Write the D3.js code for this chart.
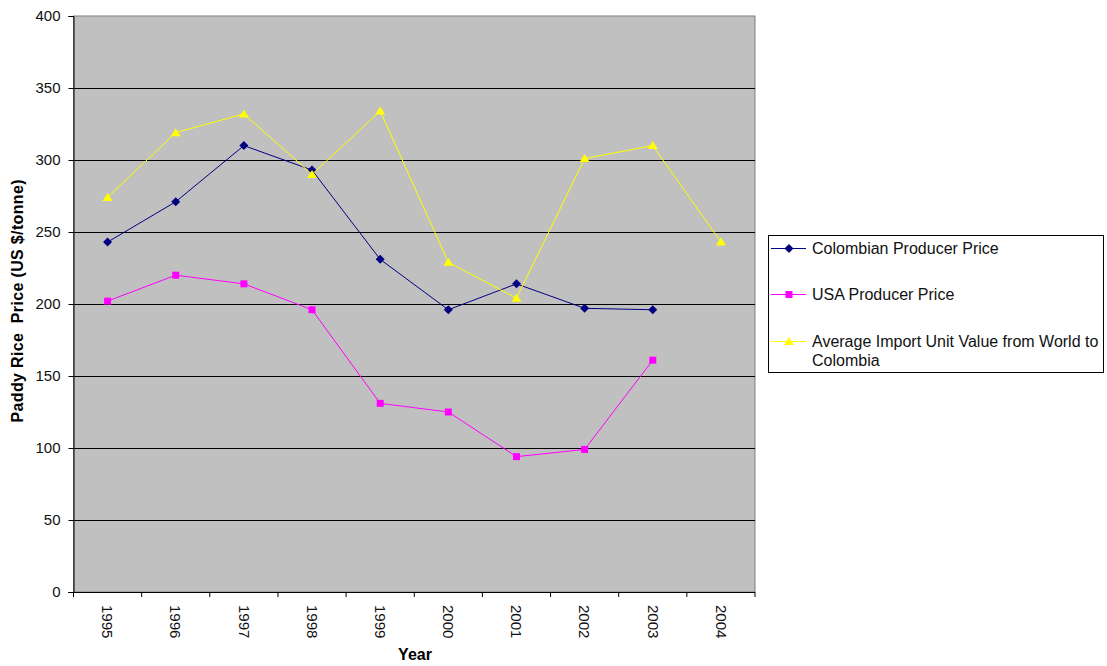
<!DOCTYPE html>
<html>
<head>
<meta charset="utf-8">
<script src="https://cdn.jsdelivr.net/npm/d3@7"></script>
<style>
  html, body { margin: 0; padding: 0; background: #ffffff; }
  svg { display: block; font-family: "Liberation Sans", Arial, sans-serif; }
</style>
</head>
<body>
<svg id="chart" width="1107" height="666"></svg>
<script>
// Paddy rice prices, US $/tonne
const years = ["1995", "1996", "1997", "1998", "1999", "2000", "2001", "2002", "2003", "2004"];
const colombianProducer = [243, 271, 310, 293, 231, 196, 214, 197, 196, null];
const usaProducer = [202, 220, 214, 196, 131, 125, 94, 99, 161, null];
const importUnitValue = [274, 319, 332, 290, 334, 229, 204, 301, 310, 243];
const yTicks = [0, 50, 100, 150, 200, 250, 300, 350, 400];

const seriesNames = [
  "Colombian Producer Price",
  "USA Producer Price",
  "Average Import Unit Value from World to Colombia"
];
const seriesValues = [colombianProducer, usaProducer, importUnitValue];
const seriesColors = ["#000080", "#FF00FF", "#FFFF00"];

// marker shapes (path strings centred at 0,0)
const markerPaths = [
  "M0,-4.5L4.5,0L0,4.5L-4.5,0Z",
  "M-3.5,-3.5H3.5V3.5H-3.5Z",
  "M0,-4.5L5,3.5L-5,3.5Z"
];

const svg = d3.select("#chart");
const plot = { left: 73.5, top: 16, right: 755, bottom: 592 };

const x = d3.scaleBand().domain(years).range([plot.left, plot.right]);
const y = d3.scaleLinear().domain([0, 400]).range([plot.bottom, plot.top]);

// plot area background
svg.append("rect")
  .attr("x", plot.left).attr("y", plot.top)
  .attr("width", plot.right - plot.left).attr("height", plot.bottom - plot.top)
  .attr("fill", "#C0C0C0")
  .attr("stroke", "#808080").attr("stroke-width", 1);

// horizontal gridlines
svg.append("g")
  .selectAll("line")
  .data(yTicks.filter(t => t > 0 && t < 400))
  .join("line")
  .attr("x1", plot.left).attr("x2", plot.right)
  .attr("y1", d => Math.round(y(d)) + 0.5).attr("y2", d => Math.round(y(d)) + 0.5)
  .attr("stroke", "#000000").attr("stroke-width", 1);

// y axis
const yAxis = svg.append("g")
  .attr("transform", `translate(${plot.left},0)`)
  .call(d3.axisLeft(y).tickValues(yTicks).tickSize(5).tickPadding(8).tickFormat(d3.format("d")));
yAxis.select(".domain").attr("stroke", "#000");
yAxis.selectAll(".tick line").attr("stroke", "#000");
yAxis.selectAll(".tick text")
  .attr("font-size", 15).attr("fill", "#111")
  .attr("font-family", "Liberation Sans, Arial, sans-serif");

// x axis: ticks at category boundaries
const xAxisG = svg.append("g").attr("transform", `translate(0,${plot.bottom})`);
xAxisG.append("line")
  .attr("x1", plot.left - 5).attr("x2", plot.right)
  .attr("y1", 0.5).attr("y2", 0.5)
  .attr("stroke", "#000");
const boundaries = years.map(d => x(d)).concat([x(years[years.length - 1]) + x.bandwidth()]);
xAxisG.selectAll("line.tick")
  .data(boundaries)
  .join("line")
  .attr("class", "tick")
  .attr("x1", d => d).attr("x2", d => d)
  .attr("y1", 0).attr("y2", 5)
  .attr("stroke", "#000");
xAxisG.selectAll("text.label")
  .data(years)
  .join("text")
  .attr("class", "label")
  .attr("transform", d => `translate(${x(d) + x.bandwidth() / 2},13) rotate(90)`)
  .attr("dy", "0.35em")
  .attr("text-anchor", "start")
  .attr("font-size", 15)
  .attr("fill", "#111")
  .text(d => d);

// axis titles
svg.append("text")
  .attr("x", 415).attr("y", 660)
  .attr("text-anchor", "middle")
  .attr("font-size", 16).attr("font-weight", "bold")
  .text("Year");
svg.append("text")
  .attr("transform", `translate(23,301) rotate(-90)`)
  .attr("text-anchor", "middle")
  .attr("font-size", 16).attr("font-weight", "bold")
  .attr("textLength", 243).attr("lengthAdjust", "spacing")
  .style("white-space", "pre")
  .text("Paddy Rice  Price (US $/tonne)");

// series lines and markers
const line = d3.line()
  .defined(d => d.v != null)
  .x(d => x(d.year) + x.bandwidth() / 2)
  .y(d => y(d.v));

seriesValues.forEach((vals, i) => {
  const pts = years.map((yr, j) => ({ year: yr, v: vals[j] }));
  svg.append("path")
    .datum(pts)
    .attr("fill", "none")
    .attr("stroke", seriesColors[i])
    .attr("stroke-width", 1)
    .attr("d", line);
  svg.append("g")
    .selectAll("path")
    .data(pts.filter(d => d.v != null))
    .join("path")
    .attr("transform", d => `translate(${x(d.year) + x.bandwidth() / 2},${y(d.v)})`)
    .attr("d", markerPaths[i])
    .attr("fill", seriesColors[i]);
});

// legend
const legend = svg.append("g");
legend.append("rect")
  .attr("x", 768.5).attr("y", 235.5)
  .attr("width", 335).attr("height", 137)
  .attr("fill", "#fff").attr("stroke", "#000").attr("stroke-width", 1);
const legendY = [248, 294, 341];
seriesNames.forEach((name, i) => {
  const ly = legendY[i];
  legend.append("line")
    .attr("x1", 771).attr("x2", 806)
    .attr("y1", ly + 0.5).attr("y2", ly + 0.5)
    .attr("stroke", seriesColors[i]);
  legend.append("path")
    .attr("transform", `translate(789,${ly + 0.5})`)
    .attr("d", markerPaths[i])
    .attr("fill", seriesColors[i]);
  const t = legend.append("text")
    .attr("x", 812).attr("y", ly)
    .attr("dy", "0.35em")
    .attr("font-size", 16)
    .attr("fill", "#111");
  if (i === 2) {
    t.append("tspan").attr("x", 812).text("Average Import Unit Value from World to");
    t.append("tspan").attr("x", 812).attr("dy", "1.2em").text("Colombia");
  } else {
    t.text(name);
  }
});
</script>
</body>
</html>
